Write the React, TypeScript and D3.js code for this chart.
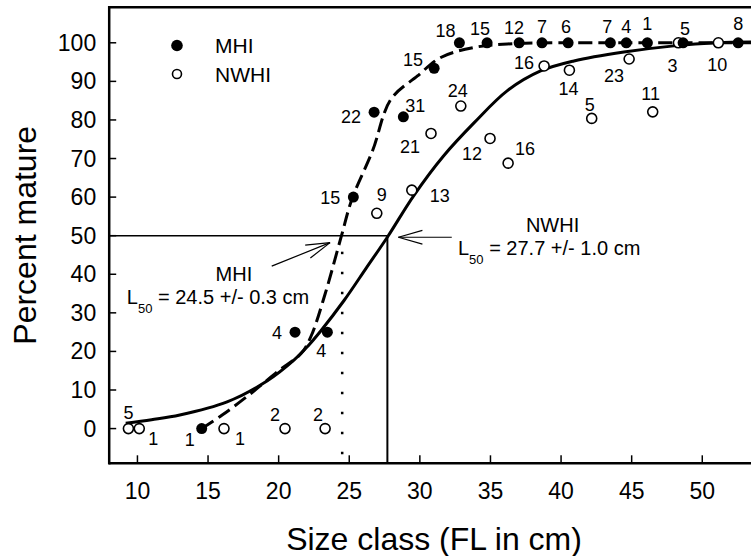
import React, { useEffect, useRef } from "react";
import * as d3 from "d3";

// MHI (filled) observations: size class, percent mature, sample size
const mhiSize = [14.55, 21.16, 23.45, 25.29, 26.76, 28.83, 31.01, 32.8, 34.76, 37.03, 38.65, 40.5, 43.49, 44.62, 46.11, 48.64, 52.54];
const mhiPct = [0, 25, 25, 60, 82, 80.8, 93.4, 100, 100, 100, 100, 100, 100, 100, 100, 100, 100];
const mhiN = ["1", "4", "4", "15", "22", "31", "15", "18", "15", "12", "7", "6", "7", "4", "1", "5", "8"];

// NWHI (open) observations
const nwhiSize = [9.36, 10.13, 16.13, 20.45, 23.29, 26.95, 29.43, 30.79, 32.9, 34.97, 36.25, 38.8, 40.59, 42.17, 44.82, 46.49, 48.31, 51.14];
const nwhiPct = [0, 0, 0, 0, 0, 55.8, 61.8, 76.5, 83.6, 75.2, 68.8, 94, 92.9, 80.4, 95.8, 82.1, 100, 100];
const nwhiN = ["5", "1", "1", "2", "2", "9", "13", "21", "24", "12", "16", "16", "14", "5", "23", "11", "3", "10"];

// fitted curves
const mhiCurveX = [14.55, 16, 18, 20, 21.6, 22.3, 23.3, 24.45, 25.2, 26.65, 27.94, 29.83, 31.48, 33.85, 36.2, 40, 45, 53.5];
const mhiCurveY = [0, 3.5, 9, 15, 19.5, 24, 35, 50, 59.6, 72, 85.3, 91.4, 96.2, 98.8, 99.7, 100, 100, 100];
const nwhiCurveX = [9.17, 11, 13, 16.35, 19.2, 21.1, 22.05, 22.98, 24.63, 26.2, 27.73, 29.57, 31.66, 33.85, 36.2, 38.55, 40.91, 44.45, 47.99, 51.05, 53.5];
const nwhiCurveY = [1.4, 2.3, 3.5, 6.9, 12.4, 17.8, 21.3, 25.3, 33.2, 41.6, 49.8, 60.4, 70.6, 79.3, 87.6, 92.7, 95.3, 97.6, 99.2, 100, 100.2];

const xTicks = [10, 15, 20, 25, 30, 35, 40, 45, 50];
const yTicks = [0, 10, 20, 30, 40, 50, 60, 70, 80, 90, 100];

const mhiL50 = 24.5;
const nwhiL50 = 27.7;

// label offsets (px) for the sample-size numbers
const mhiLabelPos = [[-12, 17], [-18, 7], [-6, 25], [-23, 7], [-23, 11], [12, -5], [-21, -2], [-14, -6], [-7, -8], [-5, -9], [0, -10], [-2, -10], [-3, -10], [0, -10], [0, -13], [2, -8], [0, -13]];
const nwhiLabelPos = [[0, -10], [14, 16], [16, 16], [-10, -8], [-7, -8], [5, -12], [28, 12], [-21, 20], [-3, -9], [-18, 22], [17, -8], [-20, 3], [-1, 25], [-2, -7], [-15, 23], [-2, -12], [-6, 29], [-1, 28]];

const font = "'Liberation Sans', Arial, sans-serif";

export default function App() {
  const svgRef = useRef<SVGSVGElement>(null);

  useEffect(() => {
    const svg = d3.select(svgRef.current);
    svg.selectAll("*").remove();

    const x = d3.scaleLinear().domain([8, 53.5]).range([109.2, 751.7]);
    const y = d3.scaleLinear().domain([-9, 109.2]).range([463.3, 7.3]);

    const g = svg.append("g").style("font-family", font);

    // reference lines at 50 %
    g.append("line")
      .attr("x1", x(8)).attr("x2", x(nwhiL50))
      .attr("y1", y(50)).attr("y2", y(50))
      .attr("stroke", "#000").attr("stroke-width", 1.5);
    g.append("line")
      .attr("x1", x(nwhiL50)).attr("x2", x(nwhiL50))
      .attr("y1", y(50)).attr("y2", y(-9))
      .attr("stroke", "#000").attr("stroke-width", 2);
    g.append("line")
      .attr("x1", x(mhiL50)).attr("x2", x(mhiL50))
      .attr("y1", y(50) + 16).attr("y2", y(-9))
      .attr("stroke", "#000").attr("stroke-width", 2.5)
      .attr("stroke-dasharray", "2.5,17.5");

    const mhiPts = mhiCurveX.map((d, i) => [x(d), y(mhiCurveY[i])] as [number, number]);
    const nwhiPts = nwhiCurveX.map((d, i) => [x(d), y(nwhiCurveY[i])] as [number, number]);
    const curve = d3.line().curve(d3.curveCatmullRom.alpha(0.5));

    g.append("path")
      .attr("d", curve(nwhiPts))
      .attr("fill", "none").attr("stroke", "#000").attr("stroke-width", 3);
    g.append("path")
      .attr("d", curve(mhiPts))
      .attr("fill", "none").attr("stroke", "#000").attr("stroke-width", 3)
      .attr("stroke-dasharray", "14,6");

    // points
    g.selectAll(".nwhi")
      .data(nwhiSize)
      .enter()
      .append("circle")
      .attr("class", "nwhi")
      .attr("cx", (d) => x(d))
      .attr("cy", (d, i) => y(nwhiPct[i]))
      .attr("r", 5)
      .attr("fill", "#fff").attr("stroke", "#000").attr("stroke-width", 1.6);

    g.selectAll(".mhi")
      .data(mhiSize)
      .enter()
      .append("circle")
      .attr("class", "mhi")
      .attr("cx", (d) => x(d))
      .attr("cy", (d, i) => y(mhiPct[i]))
      .attr("r", 5.5)
      .attr("fill", "#000");

    // sample sizes
    g.selectAll(".mhiN")
      .data(mhiN)
      .enter()
      .append("text")
      .attr("x", (d, i) => x(mhiSize[i]) + mhiLabelPos[i][0])
      .attr("y", (d, i) => y(mhiPct[i]) + mhiLabelPos[i][1])
      .attr("text-anchor", "middle")
      .style("font-size", "18px")
      .text((d) => d);

    g.selectAll(".nwhiN")
      .data(nwhiN)
      .enter()
      .append("text")
      .attr("x", (d, i) => x(nwhiSize[i]) + nwhiLabelPos[i][0])
      .attr("y", (d, i) => y(nwhiPct[i]) + nwhiLabelPos[i][1])
      .attr("text-anchor", "middle")
      .style("font-size", "18px")
      .text((d) => d);

    // arrows
    function arrow(x0: number, y0: number, x1: number, y1: number) {
      const a = Math.atan2(y1 - y0, x1 - x0);
      const len = 25;
      const spread = 0.28;
      g.append("line")
        .attr("x1", x0).attr("y1", y0).attr("x2", x1).attr("y2", y1)
        .attr("stroke", "#000").attr("stroke-width", 1.2);
      [a + spread, a - spread].forEach((b) => {
        g.append("line")
          .attr("x1", x1).attr("y1", y1)
          .attr("x2", x1 - len * Math.cos(b)).attr("y2", y1 - len * Math.sin(b))
          .attr("stroke", "#000").attr("stroke-width", 1.2);
      });
    }
    arrow(x(32.26), y(49.6), x(28.48), y(49.6));
    arrow(x(19.51), y(42.1), x(23.64), y(48.2));

    // annotation text
    function l50(xv: number, yv: number, rest: string) {
      const t = g.append("text")
        .attr("x", x(xv)).attr("y", y(yv))
        .style("font-size", "20px");
      t.append("tspan").text("L");
      t.append("tspan").attr("dy", 9).style("font-size", "13px").text("50");
      t.append("tspan").attr("dy", -9).text(rest);
    }
    g.append("text")
      .attr("x", x(39.4)).attr("y", y(50.9))
      .attr("text-anchor", "middle")
      .style("font-size", "20px")
      .text("NWHI");
    l50(32.7, 45, " = 27.7 +/- 1.0 cm");

    g.append("text")
      .attr("x", x(16.83)).attr("y", y(38.2))
      .attr("text-anchor", "middle")
      .style("font-size", "20px")
      .text("MHI");
    l50(9.25, 32.2, " = 24.5 +/- 0.3 cm");

    // legend
    g.append("circle").attr("cx", x(12.8)).attr("cy", y(99.3)).attr("r", 5.8).attr("fill", "#000");
    g.append("circle").attr("cx", x(12.8)).attr("cy", y(91.9)).attr("r", 4.5)
      .attr("fill", "#fff").attr("stroke", "#000").attr("stroke-width", 1.6);
    g.append("text").attr("x", x(15.5)).attr("y", y(99.3) + 8).style("font-size", "21px").text("MHI");
    g.append("text").attr("x", x(15.5)).attr("y", y(91.9) + 8).style("font-size", "21px").text("NWHI");

    // frame and axes
    const [x0, x1] = x.range();
    const [yb, yt] = y.range();
    g.append("line").attr("x1", x0).attr("x2", x1).attr("y1", yt).attr("y2", yt)
      .attr("stroke", "#000").attr("stroke-width", 2.5);
    g.append("line").attr("x1", x0).attr("x2", x1).attr("y1", yb).attr("y2", yb)
      .attr("stroke", "#000").attr("stroke-width", 2.5);
    g.append("line").attr("x1", x0).attr("x2", x0).attr("y1", yt - 1.2).attr("y2", yb + 1.2)
      .attr("stroke", "#000").attr("stroke-width", 2.5);

    g.selectAll(".xt")
      .data(xTicks)
      .enter()
      .append("line")
      .attr("x1", (d) => x(d)).attr("x2", (d) => x(d))
      .attr("y1", yb).attr("y2", yb - 8)
      .attr("stroke", "#000").attr("stroke-width", 1.5);
    g.selectAll(".xl")
      .data(xTicks)
      .enter()
      .append("text")
      .attr("x", (d) => x(d)).attr("y", yb + 36)
      .attr("text-anchor", "middle")
      .style("font-size", "23px")
      .text((d) => d);

    g.selectAll(".yt")
      .data(yTicks)
      .enter()
      .append("line")
      .attr("x1", x0).attr("x2", x0 + 7)
      .attr("y1", (d) => y(d)).attr("y2", (d) => y(d))
      .attr("stroke", "#000").attr("stroke-width", 1.5);
    g.selectAll(".yl")
      .data(yTicks)
      .enter()
      .append("text")
      .attr("x", x0 - 13).attr("y", (d) => y(d))
      .attr("dy", "0.35em")
      .attr("text-anchor", "end")
      .style("font-size", "23px")
      .text((d) => d);

    g.append("text")
      .attr("x", 434).attr("y", 550)
      .attr("text-anchor", "middle")
      .style("font-size", "32px")
      .text("Size class (FL in cm)");
    g.append("text")
      .attr("transform", `translate(36, ${(yb + yt) / 2}) rotate(-90)`)
      .attr("text-anchor", "middle")
      .style("font-size", "32px")
      .text("Percent mature");
  }, []);

  return (
    <svg
      ref={svgRef}
      width={751}
      height={556}
      style={{ position: "absolute", left: 0, top: 0, background: "#fff" }}
    ></svg>
  );
}
